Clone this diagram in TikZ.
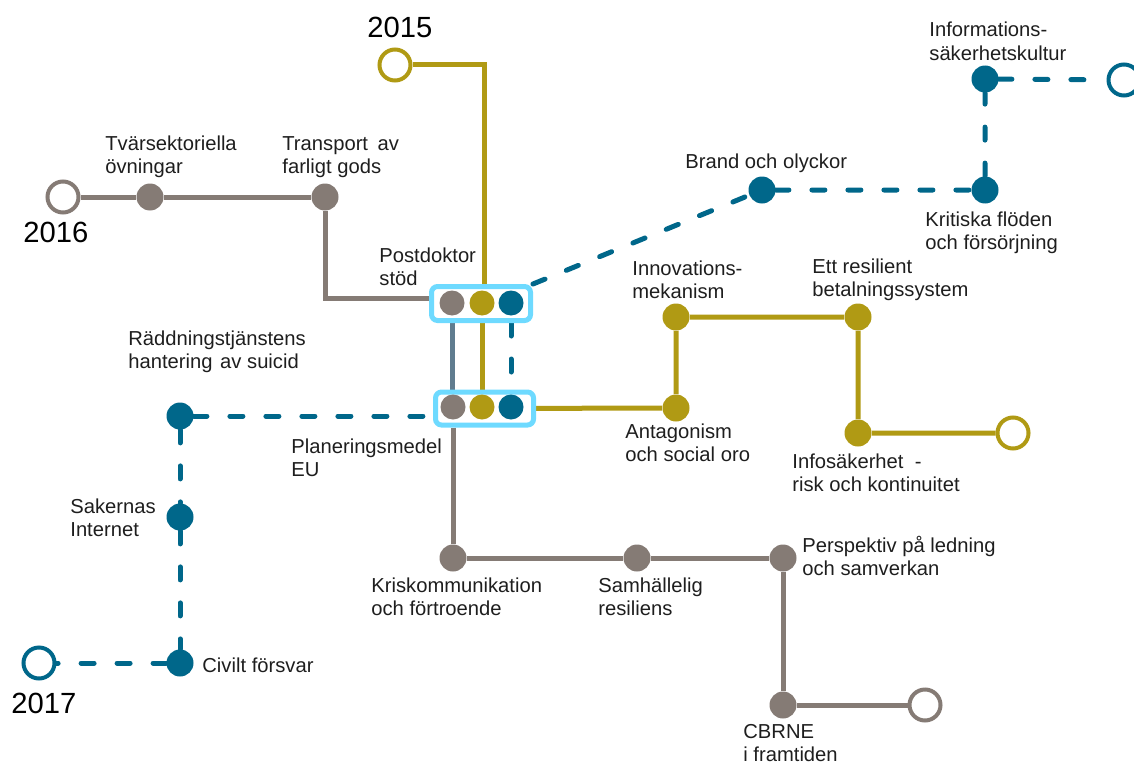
\documentclass[tikz,border=0pt]{standalone}
\usepackage{fontspec}
\setmainfont{Liberation Sans}
\definecolor{cg}{RGB}{133,123,117}
\definecolor{co}{RGB}{176,154,20}
\definecolor{ct}{RGB}{0,103,138}
\definecolor{cbx}{RGB}{110,218,255}
\definecolor{cgb}{RGB}{96,124,143}
\definecolor{ctext}{RGB}{30,30,30}
\newcommand\twoline[2]{\vtop{\hbox{#1}\hbox{#2}}}
\pgfdeclarelayer{background}
\pgfsetlayers{background,main}
\begin{document}
\begin{tikzpicture}[x=0.5pt,y=-0.5pt,
  dot/.style={circle,fill=#1,inner sep=0pt,minimum size=13.5pt},
  bdot/.style={circle,fill=#1,inner sep=0pt,minimum size=12.5pt},
  ring/.style={circle,draw=#1,fill=white,line width=2pt,inner sep=0pt,minimum size=15.5pt},
  boxnode/.style={draw=cbx,line width=2.5pt,rounded corners=3pt,fill=white,inner sep=0pt},
  solidline/.style={line width=2.5pt,draw=#1},
  dashline/.style={line width=2.5pt,draw=ct,line cap=round,dash pattern=on 6.5pt off 11.5pt},
  lbl/.style={anchor=base west,inner sep=0pt,text=ctext,font=\fontsize{10.1}{11.75}\selectfont},
  year/.style={anchor=base west,inner sep=0pt,text=black,font=\fontsize{14.6}{16}\selectfont}]
\useasboundingbox (0,0) rectangle (1134,765);

% boxes and their dots
\node[boxnode,minimum width=49.5pt,minimum height=17pt] (b1) at (481,303.5) {};
\node[bdot=cg] (b1g) at (452,303) {};
\node[bdot=co] (b1o) at (482,303) {};
\node[bdot=ct] (b1t) at (511,303) {};
\node[boxnode,minimum width=49pt,minimum height=16.5pt] (b2) at (484.5,408.5) {};
\node[bdot=cg] (b2g) at (453,407) {};
\node[bdot=co] (b2o) at (482,407) {};
\node[bdot=ct] (b2t) at (511,407) {};

% grey line (2016)
\node[ring=cg] (y16) at (63,197) {};
\node[dot=cg] (tv) at (150,197) {};
\node[dot=cg] (tr) at (325,197) {};

% olive line (2015)
\node[ring=co] (y15) at (395,65) {};
\node[dot=co] (an) at (676,408) {};
\node[dot=co] (inn) at (676,317) {};
\node[dot=co] (ett) at (858,317) {};
\node[dot=co] (isk) at (858,433) {};
\node[ring=co] (y19) at (1013,433) {};

% teal line
\node[dot=ct] (br) at (762,190) {};
\node[dot=ct] (kr) at (985,190) {};
\node[dot=ct] (inf) at (985,79) {};
\node[ring=ct] (y18) at (1124,80) {};
\node[dot=ct] (rd) at (180,416) {};
\node[dot=ct] (sak) at (180,517) {};
\node[dot=ct] (civ) at (180,663) {};
\node[ring=ct] (y17) at (39,663) {};

% grey lower line
\node[dot=cg] (kk) at (453,558) {};
\node[dot=cg] (sam) at (637,558) {};
\node[dot=cg] (per) at (783,558) {};
\node[dot=cg] (cb) at (783,705) {};
\node[ring=cg] (y20) at (925,705) {};

\begin{pgfonlayer}{background}
\draw[solidline=cg] (y16) -- (tv) -- (tr) |- ([yshift=2.75pt]b1.west);
\draw[solidline=co] (y15) -| ([xshift=1pt]b1o |- b1.north);
\draw[solidline=cgb] (b1g |- b1.south) -- (b1g |- b2.north);
\draw[solidline=co] (b1o |- b1.south) -- (b1o |- b2.north);
\draw[dashline] (b1t |- b1.south) -- (b1t |- b2.north);
\draw[dashline] (b1.north east) -- (br) -- (kr) -- (inf) -- (y18);
\draw[solidline=co] (b2) -- (an) -- (inn) -- (ett) -- (isk) -- (y19);
\draw[dashline] (rd) -- (b2.west |- rd);
\draw[dashline] (rd) -- (sak) -- (civ) -- (y17);
\draw[solidline=cg] (kk |- b2.south) -- (kk) -- (sam) -- (per) -- (cb) -- (y20);
\end{pgfonlayer}

% labels
\node[year] (t15) at (367,38) {2015};
\node[year] (t16) at (23,242) {2016};
\node[year] (t17) at (11,713) {2017};
\node[lbl] (ltv) at (105,150) {\twoline{Tvärsektoriella}{övningar}};
\node[lbl] (ltr) at (282,150) {\twoline{Transport\kern2pt\ av}{farligt gods}};
\node[lbl] (lpd) at (379,262) {\twoline{Postdoktor}{stöd}};
\node[lbl] (lbr) at (685,168) {Brand och olyckor};
\node[lbl] (linf) at (929,37) {\twoline{Informations-}{säkerhetskultur}};
\node[lbl] (lkr) at (925,226) {\twoline{Kritiska flöden}{och försörjning}};
\node[lbl] (linn) at (632,275) {\twoline{Innovations-}{mekanism}};
\node[lbl] (lett) at (812,273) {\twoline{Ett resilient}{betalningssystem}};
\node[lbl] (lrd) at (128,345) {\twoline{Räddningstjänstens}{hantering\kern1pt\ av suicid}};
\node[lbl] (lpl) at (291,453) {\twoline{Planeringsmedel}{EU}};
\node[lbl] (lan) at (625,438) {\twoline{Antagonism}{och social oro}};
\node[lbl] (lisk) at (792,468) {\twoline{Infosäkerhet\ \ -}{risk och kontinuitet}};
\node[lbl] (lsak) at (70,513) {\twoline{Sakernas}{Internet}};
\node[lbl] (lciv) at (202,672) {Civilt försvar};
\node[lbl] (lkk) at (371,592) {\twoline{Kriskommunikation}{och förtroende}};
\node[lbl] (lsam) at (598,592) {\twoline{Samhällelig}{resiliens}};
\node[lbl] (lper) at (802,552) {\twoline{Perspektiv på ledning}{och samverkan}};
\node[lbl] (lcb) at (743,738) {\twoline{CBRNE}{i framtiden}};
\end{tikzpicture}
\end{document}
